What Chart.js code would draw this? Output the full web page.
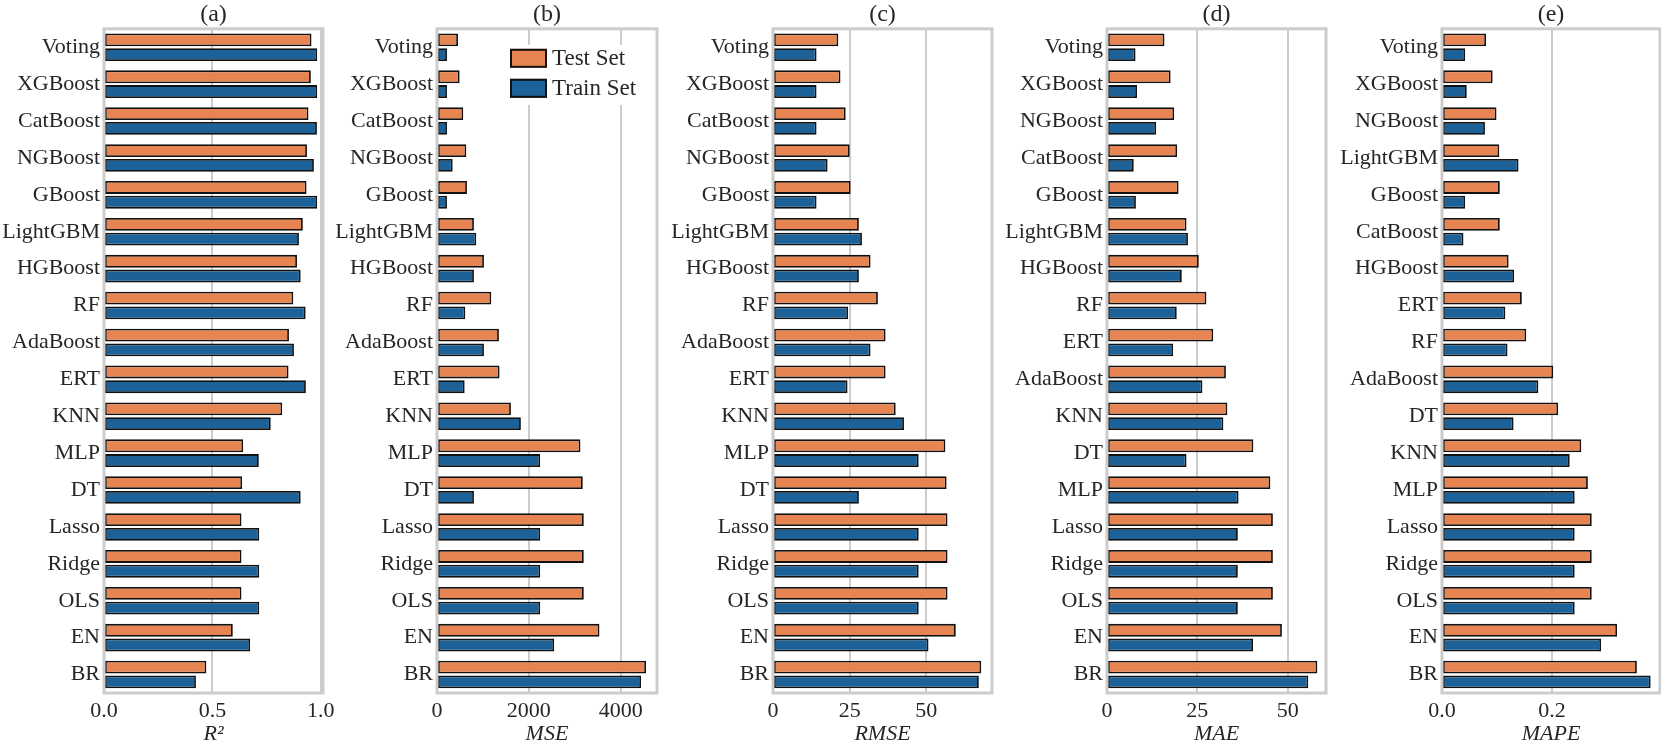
<!DOCTYPE html>
<html>
<head>
<meta charset="utf-8">
<script src="https://cdn.jsdelivr.net/npm/chart.js@4.4.1/dist/chart.umd.min.js"></script>
<style>
  html, body { margin: 0; padding: 0; background: #fff; overflow: hidden; }
  #wrap { position: relative; width: 1661px; height: 747px; }
  #wrap canvas { position: absolute; top: 0; }
</style>
</head>
<body>
<div id="wrap"></div>
<script>
// Categories (each panel is sorted by its own test score)
const catsA = ["Voting", "XGBoost", "CatBoost", "NGBoost", "GBoost", "LightGBM", "HGBoost", "RF", "AdaBoost", "ERT", "KNN", "MLP", "DT", "Lasso", "Ridge", "OLS", "EN", "BR"];
const catsB = catsA;
const catsC = catsA;
const catsD = ["Voting", "XGBoost", "NGBoost", "CatBoost", "GBoost", "LightGBM", "HGBoost", "RF", "ERT", "AdaBoost", "KNN", "DT", "MLP", "Lasso", "Ridge", "OLS", "EN", "BR"];
const catsE = ["Voting", "XGBoost", "NGBoost", "LightGBM", "GBoost", "CatBoost", "HGBoost", "ERT", "RF", "AdaBoost", "DT", "KNN", "MLP", "Lasso", "Ridge", "OLS", "EN", "BR"];

// Values
const r2Test = [0.957, 0.954, 0.943, 0.936, 0.934, 0.917, 0.890, 0.873, 0.853, 0.851, 0.822, 0.642, 0.637, 0.634, 0.634, 0.634, 0.594, 0.472];
const r2Train = [0.983, 0.983, 0.982, 0.968, 0.983, 0.899, 0.907, 0.930, 0.876, 0.931, 0.769, 0.714, 0.907, 0.716, 0.716, 0.716, 0.674, 0.424];

const mseTest = [457, 493, 572, 638, 652, 804, 1022, 1182, 1348, 1362, 1609, 3123, 3174, 3196, 3196, 3196, 3537, 4552];
const mseTrain = [217, 217, 217, 341, 217, 855, 804, 616, 1022, 602, 1826, 2247, 804, 2247, 2247, 2247, 2551, 4443];

const rmseTest = [21.3, 22.0, 23.7, 25.0, 25.3, 28.0, 31.8, 34.2, 36.7, 36.7, 40.0, 56.2, 56.6, 56.9, 56.9, 56.9, 59.6, 67.9];
const rmseTrain = [14.2, 14.2, 14.2, 17.8, 14.2, 29.0, 28.0, 24.5, 31.8, 24.3, 42.7, 47.5, 28.0, 47.5, 47.5, 47.5, 50.7, 67.1];

const maeTest = [15.9, 17.6, 18.6, 19.4, 19.8, 22.0, 25.4, 27.5, 29.4, 32.9, 33.3, 40.5, 45.2, 45.9, 45.9, 45.9, 48.4, 58.2];
const maeTrain = [7.9, 8.3, 13.6, 7.4, 8.0, 22.4, 20.7, 19.3, 18.3, 26.4, 32.2, 22.0, 36.4, 36.2, 36.2, 36.2, 40.4, 55.7];

const mapeTest = [0.080, 0.092, 0.099, 0.104, 0.105, 0.105, 0.121, 0.145, 0.153, 0.202, 0.211, 0.253, 0.265, 0.272, 0.272, 0.272, 0.318, 0.354];
const mapeTrain = [0.042, 0.045, 0.078, 0.139, 0.042, 0.039, 0.131, 0.115, 0.119, 0.175, 0.130, 0.232, 0.241, 0.241, 0.241, 0.241, 0.289, 0.379];

// Tick values
const r2Ticks = [0, 0.5, 1.0];
const mseTicks = [0, 2000, 4000];
const rmseTicks = [0, 25, 50];
const maeTicks = [0, 25, 50];
const mapeTicks = [0, 0.2];

const seriesNames = ["Test Set", "Train Set"];
const panelTitles = ["(a)", "(b)", "(c)", "(d)", "(e)"];
const axisTitles = ["R\u00B2", "MSE", "RMSE", "MAE", "MAPE"];

const ORANGE = "#E68452";
const BLUE = "#1C6298";
const GRID = "#cccccc";
const TEXT = "#262626";
const FONT = "'Liberation Serif', 'Times New Roman', serif";

const panels = [
  { labels: catsA, test: r2Test, train: r2Train, ticks: r2Ticks, max: 1.01, dec: 1, left: 104, width: 219 },
  { labels: catsB, test: mseTest, train: mseTrain, ticks: mseTicks, max: 4790, dec: 0, left: 437, width: 220, legend: true },
  { labels: catsC, test: rmseTest, train: rmseTrain, ticks: rmseTicks, max: 71.4, dec: 0, left: 773, width: 219 },
  { labels: catsD, test: maeTest, train: maeTrain, ticks: maeTicks, max: 60.6, dec: 0, left: 1107, width: 219 },
  { labels: catsE, test: mapeTest, train: mapeTrain, ticks: mapeTicks, max: 0.396, dec: 1, left: 1442, width: 218 },
];

const YW = 104;
const PADR = 24;

// grey box round the plot area
const framePlugin = {
  id: "frame",
  afterDatasetsDraw(chart) {
    const { ctx, chartArea: a } = chart;
    ctx.save();
    ctx.strokeStyle = GRID;
    ctx.lineWidth = 3;
    ctx.strokeRect(a.left, a.top, a.width, a.height);
    ctx.restore();
  },
};

// legend with patches, drawn inside panel (b)
const boxLegend = {
  id: "boxLegend",
  afterDatasetsDraw(chart, args, opts) {
    if (!opts.show) return;
    const { ctx, chartArea: a } = chart;
    const x0 = a.left + 73, y0 = a.top + 20;
    ctx.save();
    ctx.fillStyle = "#fff";
    ctx.fillRect(x0 - 6, y0 - 4, 148, 60);
    ctx.font = "23px " + FONT;
    ctx.textBaseline = "middle";
    chart.data.datasets.forEach((ds, i) => {
      const y = y0 + i * 30;
      ctx.fillStyle = ds.backgroundColor;
      ctx.fillRect(x0, y, 37, 19);
      ctx.strokeStyle = "#111";
      ctx.lineWidth = 2;
      ctx.strokeRect(x0 + 1, y + 1, 35, 17);
      ctx.fillStyle = TEXT;
      ctx.fillText(ds.label, x0 + 42, y + 10);
    });
    ctx.restore();
  },
};

const wrap = document.getElementById("wrap");

panels.forEach((p, i) => {
  const canvas = document.createElement("canvas");
  canvas.width = YW + p.width + PADR;
  canvas.height = 747;
  canvas.style.left = p.left - YW + "px";
  canvas.style.width = canvas.width + "px";
  canvas.style.height = "747px";
  wrap.appendChild(canvas);

  new Chart(canvas.getContext("2d"), {
    type: "bar",
    data: {
      labels: p.labels,
      datasets: [
        { label: seriesNames[0], data: p.test, backgroundColor: ORANGE },
        { label: seriesNames[1], data: p.train, backgroundColor: BLUE },
      ],
    },
    options: {
      indexAxis: "y",
      responsive: false,
      animation: false,
      layout: { padding: { left: 0, right: PADR, top: 0, bottom: 0 } },
      datasets: {
        bar: {
          borderColor: "#111",
          borderWidth: 1.8,
          borderSkipped: false,
          categoryPercentage: 0.8,
          barPercentage: 0.87,
        },
      },
      scales: {
        x: {
          type: "linear",
          min: 0,
          max: p.max,
          afterBuildTicks: (s) => {
            s.ticks = p.ticks.map((v) => ({ value: v }));
          },
          afterFit: (s) => {
            s.height = 54;
            s.paddingLeft = 0;
            s.paddingRight = 0;
          },
          grid: { color: GRID, lineWidth: 2, drawTicks: false, tickLength: 0 },
          border: { display: false },
          ticks: {
            autoSkip: false,
            maxRotation: 0,
            padding: 5,
            color: TEXT,
            font: { family: FONT, size: 22 },
            callback: (v) => Number(v).toFixed(p.dec),
          },
          title: {
            display: true,
            text: axisTitles[i],
            color: TEXT,
            padding: { top: 0, bottom: 0 },
            font: { family: FONT, size: 22, style: "italic" },
          },
        },
        y: {
          type: "category",
          afterFit: (s) => {
            s.width = YW;
            s.paddingTop = 0;
            s.paddingBottom = 0;
          },
          grid: { display: false, drawTicks: false, tickLength: 0 },
          border: { display: false },
          ticks: {
            autoSkip: false,
            padding: 4,
            color: TEXT,
            font: { family: FONT, size: 22 },
          },
        },
      },
      plugins: {
        legend: { display: false },
        tooltip: { enabled: false },
        title: {
          display: true,
          text: panelTitles[i],
          fullSize: false,
          color: TEXT,
          padding: { top: 0, bottom: 0 },
          font: { family: FONT, size: 24, weight: "normal" },
        },
        boxLegend: { show: !!p.legend },
      },
    },
    plugins: [framePlugin, boxLegend],
  });
});
</script>
</body>
</html>
